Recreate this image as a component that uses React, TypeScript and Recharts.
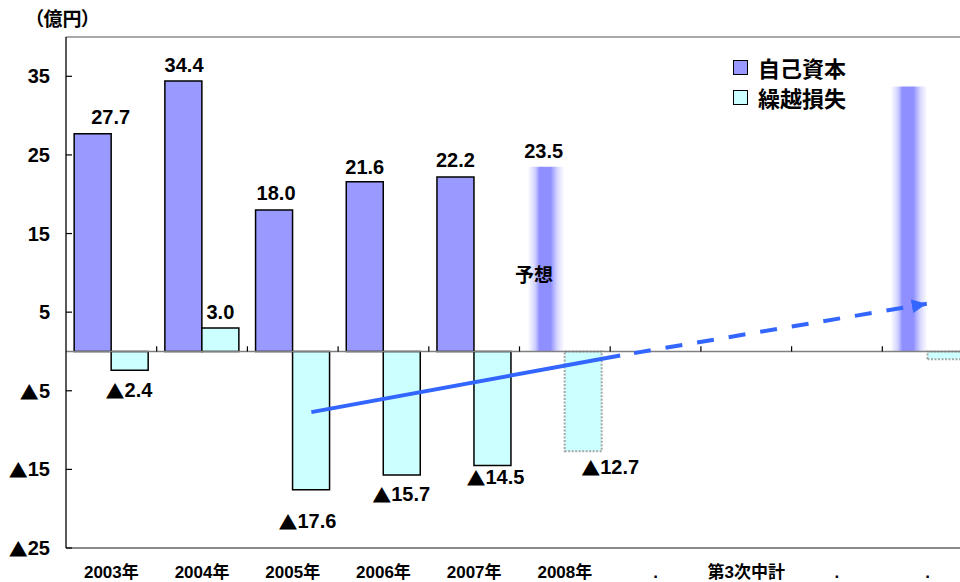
import React from 'react';
import {
  ComposedChart,
  Bar,
  Line,
  XAxis,
  YAxis,
  Cell,
  LabelList,
  ReferenceLine,
  Legend,
} from 'recharts';

// ---- data ----
const categories = ['2003年', '2004年', '2005年', '2006年', '2007年', '2008年', '.', '第3次中計', '.', '.'];
const capital: (number | null)[] = [27.7, 34.4, 18.0, 21.6, 22.2, 23.5, null, null, null, 33.7];
const loss: (number | null)[] = [-2.4, 3.0, -17.6, -15.7, -14.5, -12.7, null, null, null, -1.0];
const forecast = [false, false, false, false, false, true, false, false, false, true];
const capitalLabelShown = [true, true, true, true, true, true, false, false, false, false];
const lossLabelShown = [true, true, true, true, true, true, false, false, false, false];
const seriesNames = ['自己資本', '繰越損失'];
const yTicks = [-25, -15, -5, 5, 15, 25, 35];
const trendActual = [
  { x: 2.705, y: -7.72 },
  { x: 6.11, y: -0.51 },
];
const trendPlan = [
  { x: 6.11, y: -0.51 },
  { x: 9.49, y: 6.07 },
];

// ---- styles ----
const FONT = "'Liberation Sans', 'Noto Sans CJK JP', sans-serif";
const CJK = "'Noto Sans CJK JP', 'Liberation Sans', sans-serif";
const CAP_COLOR = '#9999FF';
const LOSS_COLOR = '#CCFFFF';
const TREND_COLOR = '#3366FF';
// label nudges (style only): horizontal shift and gap between bar end and label centre
const capDx = [18, 0.7, 2, 0, 0, -2.5, 0, 0, 0, 0];
const capGap = [17, 15.7, 17.4, 14.7, 16.7, 15.5, 16, 16, 16, 16];
const lossDx = [-0.7, 0, -3.7, -0.6, 3, 27, 0, 0, 0, 0];
const lossGap = [20, 16, 30.7, 19, 11.7, 16, 16, 16, 16, 16];

const rows = categories.map((c, i) => ({ cat: c, capital: capital[i], loss: loss[i] }));

const signed = (v: number, digits: number | null) => {
  const abs = digits == null ? String(Math.abs(v)) : Math.abs(v).toFixed(digits);
  if (v < 0) {
    return [
      <tspan key="m" fontFamily={CJK} fontSize="0.95em">
        ▲
      </tspan>,
      <tspan key="n">{abs}</tspan>,
    ];
  }
  return abs;
};

const makeLabel = (shown: boolean[], dxs: number[], gaps: number[]) => (props: any) => {
  const { x, y, width, height, value, index } = props;
  if (value == null || !shown[index]) return null;
  const top = Math.min(y, y + height);
  const bottom = Math.max(y, y + height);
  const cx = x + width / 2 + (dxs[index] || 0);
  const cy = value >= 0 ? top - gaps[index] : bottom + gaps[index];
  return (
    <text
      x={cx}
      y={cy}
      textAnchor="middle"
      dominantBaseline="central"
      fontFamily={FONT}
      fontWeight={700}
      fontSize={20}
      fill="#000"
    >
      {signed(value, 1)}
    </text>
  );
};

const YTick = (p: any) => (
  <g>
    <line x1={p.x} x2={p.x + 6} y1={p.y} y2={p.y} stroke="#000" strokeWidth={1.2} />
    <text
      x={p.x - 16}
      y={p.y}
      textAnchor="end"
      dominantBaseline="central"
      fontFamily={FONT}
      fontWeight={700}
      fontSize={20}
      fill="#000"
    >
      {signed(p.payload.value, null)}
    </text>
  </g>
);

const XTick = (p: any) => (
  <text
    x={p.x}
    y={p.y + 24}
    textAnchor="middle"
    dominantBaseline="central"
    fontFamily={FONT}
    fontWeight={700}
    fontSize={17}
    fill="#000"
  >
    {p.payload.value}
  </text>
);

const LegendContent = (props: any) => {
  const items = (props.payload || [])
    .filter((e: any) => e.type !== 'none' && seriesNames.includes(e.value))
    .sort((a: any, b: any) => seriesNames.indexOf(a.value) - seriesNames.indexOf(b.value));
  return (
    <div style={{ fontFamily: CJK, fontWeight: 700, fontSize: 22, lineHeight: '29.5px', color: '#000' }}>
      {items.map((e: any) => (
        <div key={e.value} style={{ display: 'flex', alignItems: 'center', whiteSpace: 'nowrap' }}>
          <span
            style={{
              display: 'inline-block',
              width: 15,
              height: 15,
              boxSizing: 'border-box',
              border: '1.5px solid #000',
              background: e.color,
              marginRight: 10,
            }}
          />
          {e.value}
        </div>
      ))}
    </div>
  );
};

const boundaries = categories.slice(1).map((_, i) => i + 1);

export default function App() {
  return (
    <div
      style={{
        position: 'fixed',
        left: 0,
        top: 0,
        width: 960,
        height: 582,
        overflow: 'hidden',
        background: '#fff',
      }}
    >
      <ComposedChart
        width={1000}
        height={582}
        data={rows}
        margin={{ top: 37, right: 27, bottom: 0, left: 0 }}
        barCategoryGap="9%"
        barGap={0}
      >
        <defs>
          <linearGradient id="fcGrad" x1="0" y1="0" x2="1" y2="0">
            <stop offset="0" stopColor={CAP_COLOR} stopOpacity={0} />
            <stop offset="0.2" stopColor={CAP_COLOR} stopOpacity={0.45} />
            <stop offset="0.32" stopColor="#8F8FFF" stopOpacity={1} />
            <stop offset="0.62" stopColor="#8F8FFF" stopOpacity={1} />
            <stop offset="0.82" stopColor={CAP_COLOR} stopOpacity={0.35} />
            <stop offset="1" stopColor={CAP_COLOR} stopOpacity={0} />
          </linearGradient>
          <marker
            id="arrowHead"
            markerUnits="userSpaceOnUse"
            markerWidth={15}
            markerHeight={14}
            refX={15}
            refY={7}
            orient="auto"
          >
            <path d="M0,0 L15,7 L0,14 Z" fill={TREND_COLOR} />
          </marker>
        </defs>
        <XAxis
          xAxisId="cat"
          dataKey="cat"
          height={34}
          interval={0}
          tickSize={0}
          tickMargin={0}
          tickLine={false}
          axisLine={{ stroke: '#8a8a8a', strokeWidth: 2 }}
          tick={<XTick />}
        />
        <XAxis xAxisId="num" type="number" dataKey="x" domain={[0, 10]} allowDataOverflow hide />
        <YAxis
          domain={[-25, 40]}
          ticks={yTicks}
          allowDataOverflow
          width={66}
          tickSize={0}
          tickMargin={0}
          tickLine={false}
          axisLine={{ stroke: '#000', strokeWidth: 1.3 }}
          tick={<YTick />}
        />
        <ReferenceLine xAxisId="cat" y={40} stroke="#555" strokeWidth={1.2} />
        <Bar
          xAxisId="cat"
          dataKey="capital"
          name={seriesNames[0]}
          fill={CAP_COLOR}
          stroke="#000"
          strokeWidth={1.5}
          isAnimationActive={false}
        >
          {rows.map((_, i) => (
            <Cell
              key={i}
              fill={forecast[i] ? 'url(#fcGrad)' : CAP_COLOR}
              stroke={forecast[i] ? 'none' : '#000'}
            />
          ))}
          <LabelList dataKey="capital" content={makeLabel(capitalLabelShown, capDx, capGap)} />
        </Bar>
        <Bar
          xAxisId="cat"
          dataKey="loss"
          name={seriesNames[1]}
          fill={LOSS_COLOR}
          stroke="#000"
          strokeWidth={1.5}
          isAnimationActive={false}
        >
          {rows.map((_, i) => (
            <Cell
              key={i}
              fill={LOSS_COLOR}
              stroke={forecast[i] ? '#a6a6a6' : '#000'}
              strokeDasharray={forecast[i] ? '2 1.5' : undefined}
              strokeWidth={forecast[i] ? 2 : 1.5}
            />
          ))}
          <LabelList dataKey="loss" content={makeLabel(lossLabelShown, lossDx, lossGap)} />
        </Bar>
        <ReferenceLine xAxisId="cat" y={0} stroke="#808080" strokeWidth={1.5} />
        {boundaries.map((b) => (
          <ReferenceLine
            key={'t' + b}
            xAxisId="num"
            segment={[
              { x: b, y: 0 },
              { x: b, y: 0.65 },
            ]}
            stroke="#000"
            strokeWidth={1.2}
          />
        ))}
        <Line
          xAxisId="num"
          data={trendActual}
          dataKey="y"
          stroke={TREND_COLOR}
          strokeWidth={4}
          dot={false}
          activeDot={false}
          legendType="none"
          isAnimationActive={false}
        />
        <Line
          xAxisId="num"
          data={trendPlan}
          dataKey="y"
          stroke={TREND_COLOR}
          strokeWidth={4}
          strokeDasharray="17 15"
          strokeDashoffset={18}
          markerEnd="url(#arrowHead)"
          dot={false}
          activeDot={false}
          legendType="none"
          isAnimationActive={false}
        />
        <Legend
          layout="vertical"
          align="center"
          verticalAlign="middle"
          content={<LegendContent />}
          wrapperStyle={{ left: 733, top: 53, width: 'auto', right: 'auto', bottom: 'auto' }}
        />
      </ComposedChart>
      <div
        style={{
          position: 'absolute',
          left: 34,
          top: 5,
          fontFamily: CJK,
          fontWeight: 700,
          fontSize: 19,
          lineHeight: '26px',
          fontFeatureSettings: "'palt'",
          color: '#000',
          whiteSpace: 'nowrap',
        }}
      >
        （億円）
      </div>
      <div
        style={{
          position: 'absolute',
          left: 515,
          top: 261,
          fontFamily: CJK,
          fontWeight: 700,
          fontSize: 19,
          lineHeight: '26px',
          color: '#000',
          whiteSpace: 'nowrap',
        }}
      >
        予想
      </div>
    </div>
  );
}
